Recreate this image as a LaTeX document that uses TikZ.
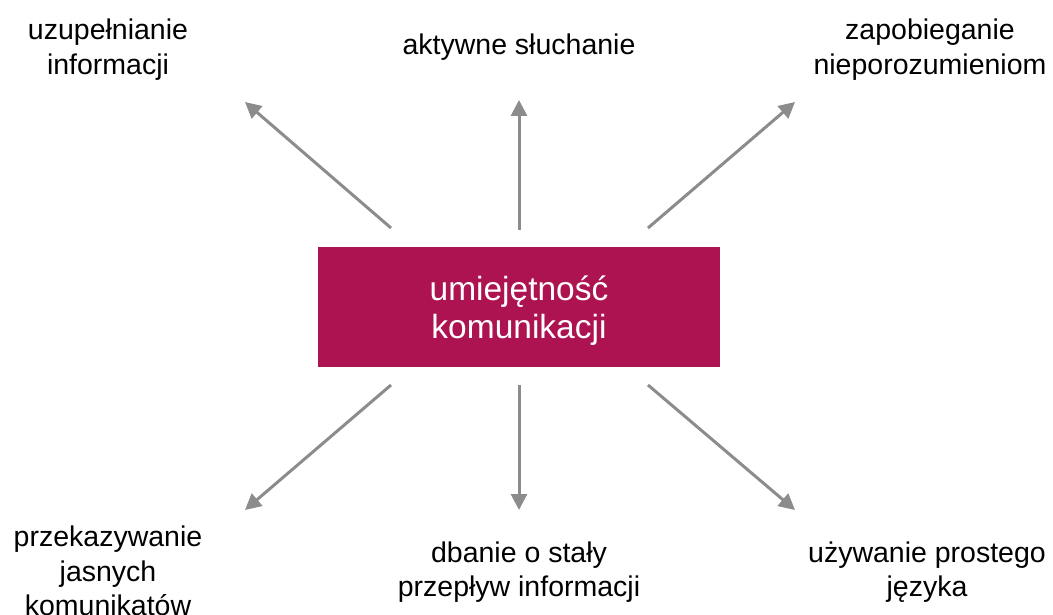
\documentclass[tikz,border=0pt]{standalone}
\usepackage{fontspec}
\setmainfont{Liberation Sans}
\usetikzlibrary{arrows.meta}
\definecolor{boxred}{RGB}{173,19,81}
\definecolor{arrgray}{RGB}{140,140,140}
\begin{document}
\begin{tikzpicture}[x=1pt,y=-1pt,
  lbl/.style={inner sep=0pt,align=center,font=\fontsize{28.5}{34.5}\selectfont},
  arr/.style={draw=arrgray,line width=3pt,-{Triangle[length=16pt,width=16pt]}}]
\useasboundingbox (0,0) rectangle (1053,615);
\node[fill=boxred,minimum width=402pt,minimum height=120pt,inner sep=0pt,text depth=0pt,
  text=white,align=center,font=\fontsize{33.5}{38}\selectfont] (box) at (519,307) {umiejętność\\komunikacji};
\node[lbl] (ul) at (108,49.5) {uzupełnianie\\informacji};
\node[lbl] (uc) at (519,47.5) {aktywne słuchanie};
\node[lbl] (ur) at (930,49.5) {zapobieganie\\nieporozumieniom};
\node[lbl] (ll) at (108,571) {przekazywanie\\jasnych\\komunikatów};
\node[lbl] (lc) at (519,572) {dbanie o stały\\przepływ informacji};
\node[lbl] (lr) at (927,572) {używanie prostego\\języka};
\coordinate (sul) at (391,228); \coordinate (tul) at (245,102);
\coordinate (suc) at (519,230); \coordinate (tuc) at (519,100);
\coordinate (sur) at (648,228); \coordinate (tur) at (795,102);
\coordinate (sll) at (391,385); \coordinate (tll) at (245,510);
\coordinate (slc) at (519,385); \coordinate (tlc) at (519,510);
\coordinate (slr) at (648,385); \coordinate (tlr) at (795,510);
\draw[arr] (sul) -- (tul);
\draw[arr] (suc) -- (tuc);
\draw[arr] (sur) -- (tur);
\draw[arr] (sll) -- (tll);
\draw[arr] (slc) -- (tlc);
\draw[arr] (slr) -- (tlr);
\end{tikzpicture}
\end{document}
